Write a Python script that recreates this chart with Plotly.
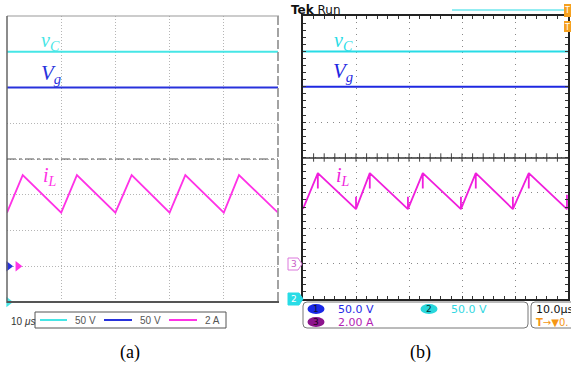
import plotly.graph_objects as go

# ---------------- data ----------------
# panel (a): simulation, time in microseconds
t_a = [0.0, 2.9, 10.0, 12.9, 20.0, 23.0, 30.0, 32.9, 40.0, 42.8, 50.0]
iL_a = [3.0, 5.1, 3.0, 5.1, 3.0, 5.1, 3.0, 5.1, 3.0, 5.1, 3.0]
vC_a = 350.0
Vg_a = 250.0

# panel (b): measurement, time in microseconds
t_b = [0.0, 2.8, 2.8, 2.8, 10.0, 10.0, 10.0, 12.6, 12.6, 12.6, 19.8, 19.8, 19.8,
       22.6, 22.6, 22.6, 29.8, 29.8, 29.8, 32.6, 32.6, 32.6, 39.6, 39.6, 39.6,
       42.6, 42.6, 42.6, 49.8, 49.8, 49.8]
iL_b = [3.1, 5.12, 4.25, 5.12, 3.08, 3.78, 3.08, 5.12, 4.25, 5.12, 3.08, 3.78, 3.08,
        5.12, 4.25, 5.12, 3.08, 3.78, 3.08, 5.12, 4.25, 5.12, 3.08, 3.78, 3.08,
        5.12, 4.25, 5.12, 3.08, 3.9, 3.08]
vC_b = 350.0
Vg_b = 250.0

# scope settings: per-division scale and ground-reference position (divisions)
scale_v = 50.0
scale_i = 2.0
gnd_vC = 0.0
gnd_Vg = 1.0
gnd_iL = 1.0
t_span = [0, 50]

legend_a = ["50 V", "50 V", "2 A"]
info_b = ["50.0 V", "50.0 V", "2.00 A"]

# ---------------- helpers ----------------
W, H = 571, 371
def px(x): return x / W
def py(y): return 1 - y / H

C_CY_A, C_BL_A, C_MG_A = "rgb(70,230,230)", "rgb(40,50,220)", "rgb(255,50,230)"
C_CY_B, C_BL_B, C_MG_B = "rgb(40,220,230)", "rgb(30,40,225)", "rgb(240,30,220)"

def div_v(v, g): return v / scale_v + g
def div_i(i, g): return i / scale_i + g

fig = go.Figure()

# panel (a) traces
fig.add_trace(go.Scatter(x=t_span, y=[div_v(vC_a, gnd_vC)] * 2, mode="lines",
                         line=dict(color=C_CY_A, width=2), xaxis="x", yaxis="y"))
fig.add_trace(go.Scatter(x=t_span, y=[div_v(Vg_a, gnd_Vg)] * 2, mode="lines",
                         line=dict(color=C_BL_A, width=2), xaxis="x", yaxis="y"))
fig.add_trace(go.Scatter(x=t_a, y=[div_i(v, gnd_iL) for v in iL_a], mode="lines",
                         line=dict(color=C_MG_A, width=1.8), xaxis="x", yaxis="y"))
# ground markers (a)
fig.add_trace(go.Scatter(x=[0.3, 2.0, 0.3], y=[gnd_Vg, gnd_iL, gnd_vC], mode="markers",
                         marker=dict(symbol="triangle-right", size=9,
                                     color=[C_BL_A, C_MG_A, C_CY_A]),
                         cliponaxis=False, xaxis="x", yaxis="y"))

# panel (b) traces
fig.add_trace(go.Scatter(x=t_span, y=[div_v(vC_b, gnd_vC)] * 2, mode="lines",
                         line=dict(color=C_CY_B, width=2), xaxis="x2", yaxis="y2"))
fig.add_trace(go.Scatter(x=t_span, y=[div_v(Vg_b, gnd_Vg)] * 2, mode="lines",
                         line=dict(color=C_BL_B, width=2), xaxis="x2", yaxis="y2"))
fig.add_trace(go.Scatter(x=t_b, y=[div_i(v, gnd_iL) for v in iL_b], mode="lines",
                         line=dict(color=C_MG_B, width=1.8), xaxis="x2", yaxis="y2"))

# center line ticks in (b)
cx = [i * 2 for i in range(1, 25)]
fig.add_trace(go.Scatter(x=cx, y=[4] * len(cx), mode="markers",
                         marker=dict(symbol="line-ns", size=6,
                                     line=dict(color="#444", width=1)),
                         xaxis="x2", yaxis="y2"))

ax_common = dict(showticklabels=False, zeroline=False, fixedrange=True)
fig.update_layout(
    width=W, height=H, margin=dict(l=0, r=0, t=0, b=0),
    paper_bgcolor="white", plot_bgcolor="white", showlegend=False,
    xaxis=dict(domain=[px(7), px(278)], range=t_span, dtick=10, tick0=0,
               showgrid=True, gridcolor="#b5b5b5", griddash="1px,2px", gridwidth=1,
               anchor="y", **ax_common),
    yaxis=dict(domain=[py(302), py(16)], range=[0, 8], dtick=1, tick0=0,
               showgrid=True, gridcolor="#b5b5b5", griddash="1px,2px", gridwidth=1,
               anchor="x", **ax_common),
    xaxis2=dict(domain=[px(303), px(568)], range=t_span, dtick=10, tick0=0,
                showgrid=True, gridcolor="#888", griddash="1px,5px", gridwidth=1,
                ticks="inside", ticklen=3, tickcolor="#333",
                minor=dict(dtick=2, ticks="inside", ticklen=3, tickcolor="#333"),
                showline=True, linecolor="#222", linewidth=1.5, mirror="ticks",
                anchor="y2", **ax_common),
    yaxis2=dict(domain=[py(299), py(16)], range=[0, 8], dtick=1, tick0=0,
                showgrid=True, gridcolor="#888", griddash="1px,5px", gridwidth=1,
                ticks="inside", ticklen=3, tickcolor="#333",
                minor=dict(dtick=0.2, ticks="inside", ticklen=3, tickcolor="#333"),
                showline=True, linecolor="#222", linewidth=1.5, mirror="ticks",
                anchor="x2", **ax_common),
)

shapes = []
def pline(x0, y0, x1, y1, color, width=1, dash="solid"):
    shapes.append(dict(type="line", xref="paper", yref="paper",
                       x0=px(x0), y0=py(y0), x1=px(x1), y1=py(y1),
                       line=dict(color=color, width=width, dash=dash)))

# panel (a) frame
pline(7, 16, 279, 16, "#999", 1.2)
pline(7, 16, 7, 303, "#666", 1.5)
pline(7, 302, 279, 302, "#555", 2)
pline(278, 16, 278, 302, "#999", 1.8, "9px,3px")
pline(7, 159, 278, 159, "#555", 1, "dashdot")
# panel (b) center solid line
pline(303, 158, 568, 158, "#333", 1.3)
# top cyan trigger line (b)
pline(452, 10, 565, 10, C_CY_B, 1.2)

# legend box (a)
shapes.append(dict(type="rect", xref="paper", yref="paper",
                   x0=px(35), x1=px(226), y0=py(328), y1=py(312),
                   line=dict(color="#555", width=1)))
pline(40, 320, 67, 320, C_CY_A, 2)
pline(104, 320, 132, 320, C_BL_A, 2)
pline(169, 320, 197, 320, C_MG_A, 2)

def rrect(x0, y0, x1, y1, r, color, fill="rgba(0,0,0,0)", width=1):
    p = (f"M {px(x0+r)},{py(y0)} L {px(x1-r)},{py(y0)} Q {px(x1)},{py(y0)} {px(x1)},{py(y0+r)} "
         f"L {px(x1)},{py(y1-r)} Q {px(x1)},{py(y1)} {px(x1-r)},{py(y1)} "
         f"L {px(x0+r)},{py(y1)} Q {px(x0)},{py(y1)} {px(x0)},{py(y1-r)} "
         f"L {px(x0)},{py(y0+r)} Q {px(x0)},{py(y0)} {px(x0+r)},{py(y0)} Z")
    shapes.append(dict(type="path", xref="paper", yref="paper", path=p,
                       line=dict(color=color, width=width), fillcolor=fill))

# info boxes (b)
rrect(303, 302, 528, 328, 4, "#777")
rrect(531, 302, 580, 328, 4, "#777")
# channel ovals
def oval(cx_, cy_, w, h, fill):
    shapes.append(dict(type="circle", xref="paper", yref="paper",
                       x0=px(cx_ - w / 2), x1=px(cx_ + w / 2),
                       y0=py(cy_ + h / 2), y1=py(cy_ - h / 2),
                       line=dict(color=fill, width=0), fillcolor=fill))
oval(316, 309, 17, 10, "rgb(25,40,230)")
oval(429, 309, 17, 10, "rgb(40,215,220)")
oval(316, 322, 17, 10, "rgb(140,20,140)")

# ground markers (b)
def pentag(x0, y0, x1, y1, line, fill):
    ym = (y0 + y1) / 2
    p = (f"M {px(x0)},{py(y0)} L {px(x1-4)},{py(y0)} L {px(x1)},{py(ym)} "
         f"L {px(x1-4)},{py(y1)} L {px(x0)},{py(y1)} Z")
    shapes.append(dict(type="path", xref="paper", yref="paper", path=p,
                       line=dict(color=line, width=1), fillcolor=fill))
pentag(288, 258, 302, 270, "rgb(220,120,220)", "white")
pentag(288, 293, 303, 305, C_CY_B, C_CY_B)

# trigger markers top right
shapes.append(dict(type="rect", xref="paper", yref="paper",
                   x0=px(564), x1=px(571), y0=py(17), y1=py(4),
                   line=dict(color="rgb(245,160,30)", width=0), fillcolor="rgb(245,160,30)"))
shapes.append(dict(type="rect", xref="paper", yref="paper",
                   x0=px(564), x1=px(571), y0=py(32), y1=py(21),
                   line=dict(color="rgb(245,160,30)", width=0), fillcolor="rgb(245,160,30)"))

fig.update_layout(shapes=shapes)

ann = []
def text(x, y, s, size, color, family="Liberation Sans", xa="left", ya="middle"):
    ann.append(dict(x=px(x), y=py(y), xref="paper", yref="paper", text=s,
                    showarrow=False, xanchor=xa, yanchor=ya,
                    font=dict(size=size, color=color, family=family)))

SERIF = "Liberation Serif"
# trace labels
text(51, 42, "<i>v</i><sub><i>C</i></sub>", 20, C_CY_A, SERIF, "center")
text(51, 74, "<i>V</i><sub><i>g</i></sub>", 21, C_BL_A, SERIF, "center")
text(50, 176, "<i>i</i><sub><i>L</i></sub>", 20, C_MG_A, SERIF, "center")
text(343, 42, "<i>v</i><sub><i>C</i></sub>", 20, C_CY_B, SERIF, "center")
text(343, 72, "<i>V</i><sub><i>g</i></sub>", 21, C_BL_B, SERIF, "center")
text(343, 176, "<i>i</i><sub><i>L</i></sub>", 20, C_MG_B, SERIF, "center")

# legend (a)
text(9, 321, "10 <i>μs</i>", 10, "#333")
text(98, 320, legend_a[0], 10, "#555", xa="right")
text(163, 320, legend_a[1], 10, "#555", xa="right")
text(222, 320, legend_a[2], 10, "#555", xa="right")

# scope header
text(289, 10, "<b>Tek</b> Run", 12, "#111", "DejaVu Sans")

# info (b)
text(316, 309, "1", 9, "#113", "DejaVu Sans", "center")
text(429, 309, "2", 9, "#033", "DejaVu Sans", "center")
text(316, 322, "3", 9, "#202", "DejaVu Sans", "center")
text(336, 309, info_b[0], 11, "rgb(30,40,230)", "DejaVu Sans")
text(449, 309, info_b[1], 11, "rgb(50,215,225)", "DejaVu Sans")
text(336, 322, info_b[2], 11, "rgb(180,30,180)", "DejaVu Sans")
text(534, 309, "10.0μs", 11, "#111", "DejaVu Sans")
text(534, 322, "<b>T</b>→▼0.", 10, "rgb(245,150,20)", "DejaVu Sans")

# ground marker labels (b)
text(294, 264, "3", 9, "rgb(200,90,200)", "DejaVu Sans", "center")
text(294, 299, "2", 9, "white", "DejaVu Sans", "center")
text(567, 11, "T", 8, "white", "DejaVu Sans", "center")
text(567, 27, "T", 8, "white", "DejaVu Sans", "center")

# panel captions
text(130, 352, "(a)", 18, "black", SERIF, "center")
text(420, 352, "(b)", 18, "black", SERIF, "center")

fig.update_layout(annotations=ann)
fig.write_html("out.html", config={"displayModeBar": False},
               post_script="document.body.style.margin='0';document.body.style.padding='0';"
                           "document.body.style.overflow='hidden';")
